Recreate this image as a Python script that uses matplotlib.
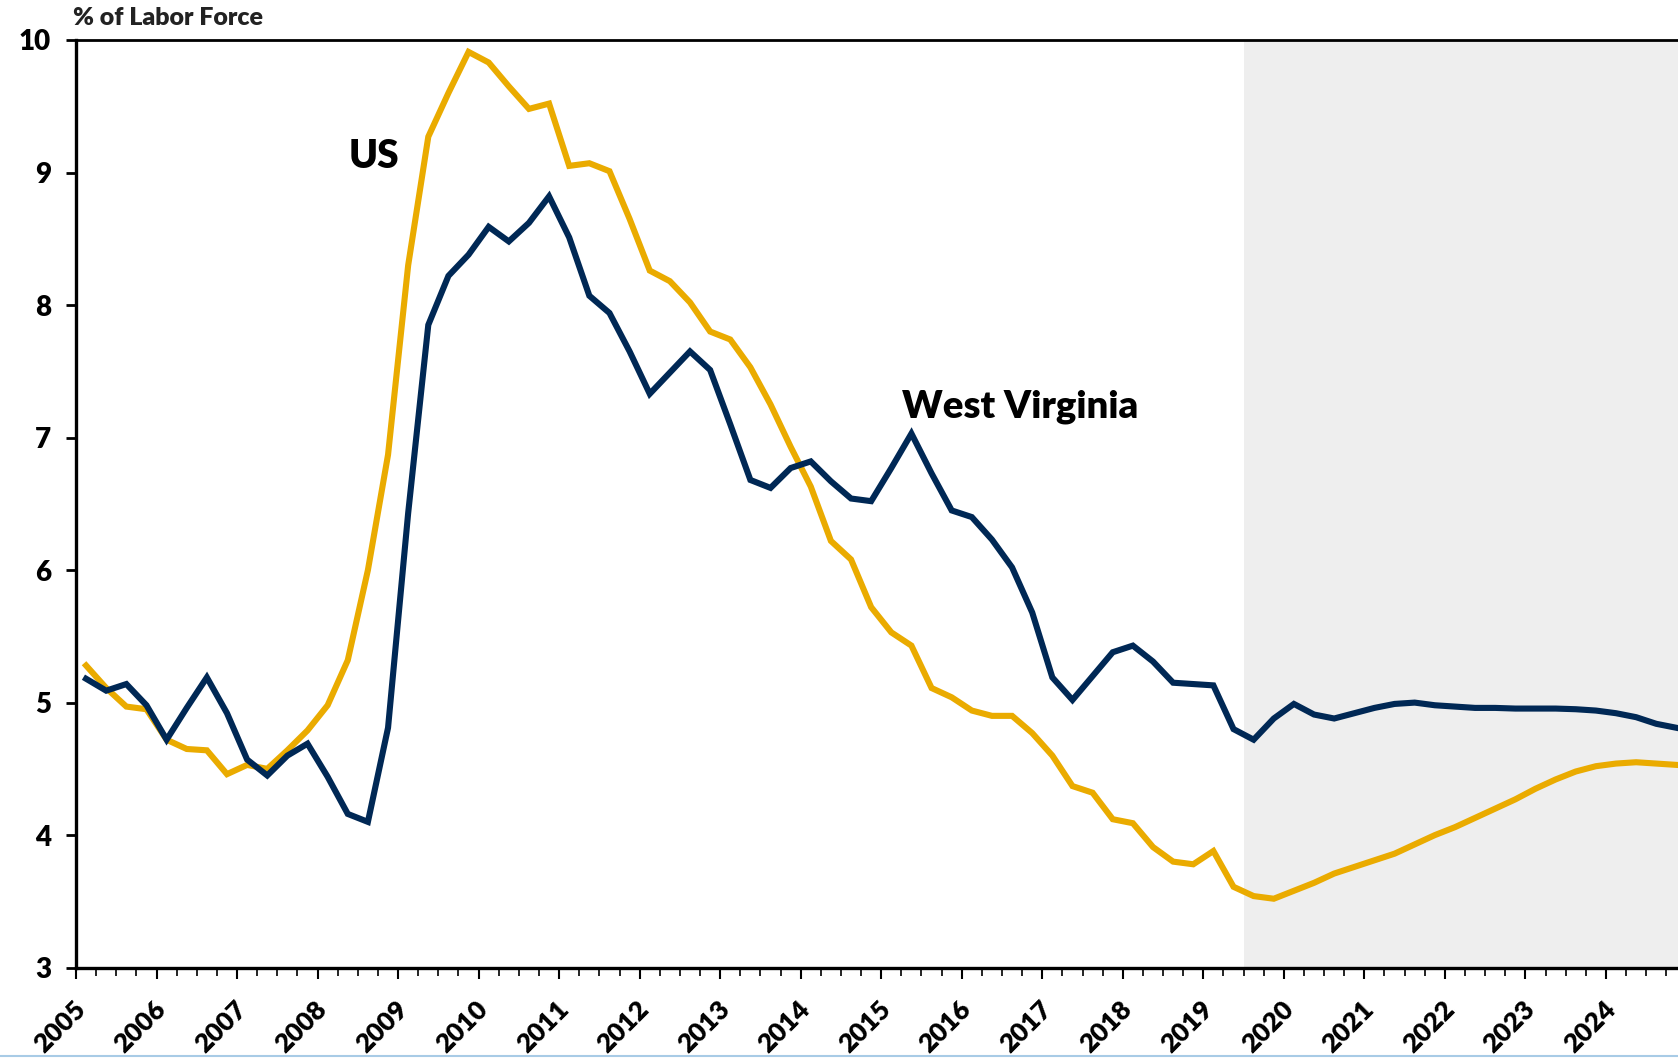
import numpy as np
import matplotlib.pyplot as plt
from matplotlib.transforms import ScaledTranslation

plt.rcParams['font.family'] = ['Lato', 'DejaVu Sans']

# quarterly unemployment rate, 2005Q1 .. 2024Q4 (2019Q3 on = forecast)
years = list(range(2005, 2025))
wv = [5.18, 5.09, 5.14, 4.98, 4.72, 4.96, 5.19, 4.92, 4.57, 4.45,
      4.60, 4.69, 4.44, 4.16, 4.10, 4.81, 6.43, 7.85, 8.22, 8.38,
      8.59, 8.48, 8.62, 8.82, 8.51, 8.07, 7.94, 7.65, 7.33, 7.49,
      7.65, 7.51, 7.10, 6.68, 6.62, 6.77, 6.82, 6.67, 6.54, 6.52,
      6.77, 7.03, 6.73, 6.45, 6.40, 6.23, 6.02, 5.68, 5.19, 5.02,
      5.20, 5.38, 5.43, 5.31, 5.15, 5.14, 5.13, 4.80, 4.72, 4.88,
      4.99, 4.91, 4.88, 4.92, 4.96, 4.99, 5.00, 4.98, 4.97, 4.96,
      4.96, 4.955, 4.955, 4.955, 4.95, 4.94, 4.92, 4.89, 4.84, 4.81]
us = [5.28, 5.11, 4.97, 4.95, 4.72, 4.65, 4.64, 4.46, 4.53, 4.50,
      4.64, 4.79, 4.98, 5.32, 6.00, 6.87, 8.30, 9.27, 9.60, 9.91,
      9.83, 9.65, 9.48, 9.52, 9.05, 9.07, 9.01, 8.65, 8.26, 8.18,
      8.02, 7.80, 7.74, 7.53, 7.25, 6.93, 6.63, 6.22, 6.08, 5.72,
      5.53, 5.43, 5.11, 5.04, 4.94, 4.90, 4.90, 4.77, 4.60, 4.37,
      4.32, 4.12, 4.09, 3.91, 3.80, 3.78, 3.88, 3.61, 3.54, 3.52,
      3.58, 3.64, 3.71, 3.76, 3.81, 3.86, 3.93, 4.00, 4.06, 4.13,
      4.20, 4.27, 4.35, 4.42, 4.48, 4.52, 4.54, 4.55, 4.54, 4.53]
forecast_start = 2019.5

x = 2005 + (np.arange(len(wv)) + 0.5) / 4

fig = plt.figure(figsize=(16.78, 10.58), dpi=100)
ax = fig.add_axes([0.0453, 0.0854, 0.9547, 0.8768])

ax.axvspan(forecast_start, 2025, color='#eeeeee', lw=0, zorder=0)
ax.plot(x, us, color='#eaab00', lw=4.4, solid_joinstyle='miter', zorder=3)
ax.plot(x, wv, color='#002855', lw=4.4, solid_joinstyle='miter', zorder=4)

ax.set_xlim(2005, x[-1] + 0.02)
ax.set_ylim(3, 10)
ax.set_yticks(range(3, 11))
ax.set_xticks(years)
ax.set_xticks(np.arange(2005, 2025, 0.25), minor=True)

for s in ['left', 'bottom']:
    ax.spines[s].set_linewidth(2.4)
ax.spines['top'].set_linewidth(2.0)
ax.spines['right'].set_visible(False)

ax.tick_params(axis='y', length=7, width=2, pad=11, labelsize=20)
ax.tick_params(axis='x', which='major', length=8, width=1.5, pad=13, labelsize=19)
ax.tick_params(axis='x', which='minor', length=6, width=1.2)
for lab in ax.get_yticklabels():
    lab.set_fontweight('heavy')
off = ScaledTranslation(0.14, 0, fig.dpi_scale_trans)
for lab in ax.get_xticklabels():
    lab.set_fontweight('heavy')
    lab.set_rotation(45)
    lab.set_ha('right')
    lab.set_transform(lab.get_transform() + off)

ax.text(2008.70, 9.12, 'US', fontsize=28, fontweight='heavy', ha='center', va='center')
ax.text(2016.72, 7.23, 'West Virginia', fontsize=27.5, fontweight='heavy', ha='center', va='center')
fig.text(0.0435, 0.983, '% of Labor Force', fontsize=18, fontweight='heavy', color='#222222',
         ha='left', va='center')

fig.add_artist(plt.Line2D([0, 1], [0.002, 0.002], color='#a8cbe6', lw=1.5))

fig.savefig('out.png', dpi=100)
